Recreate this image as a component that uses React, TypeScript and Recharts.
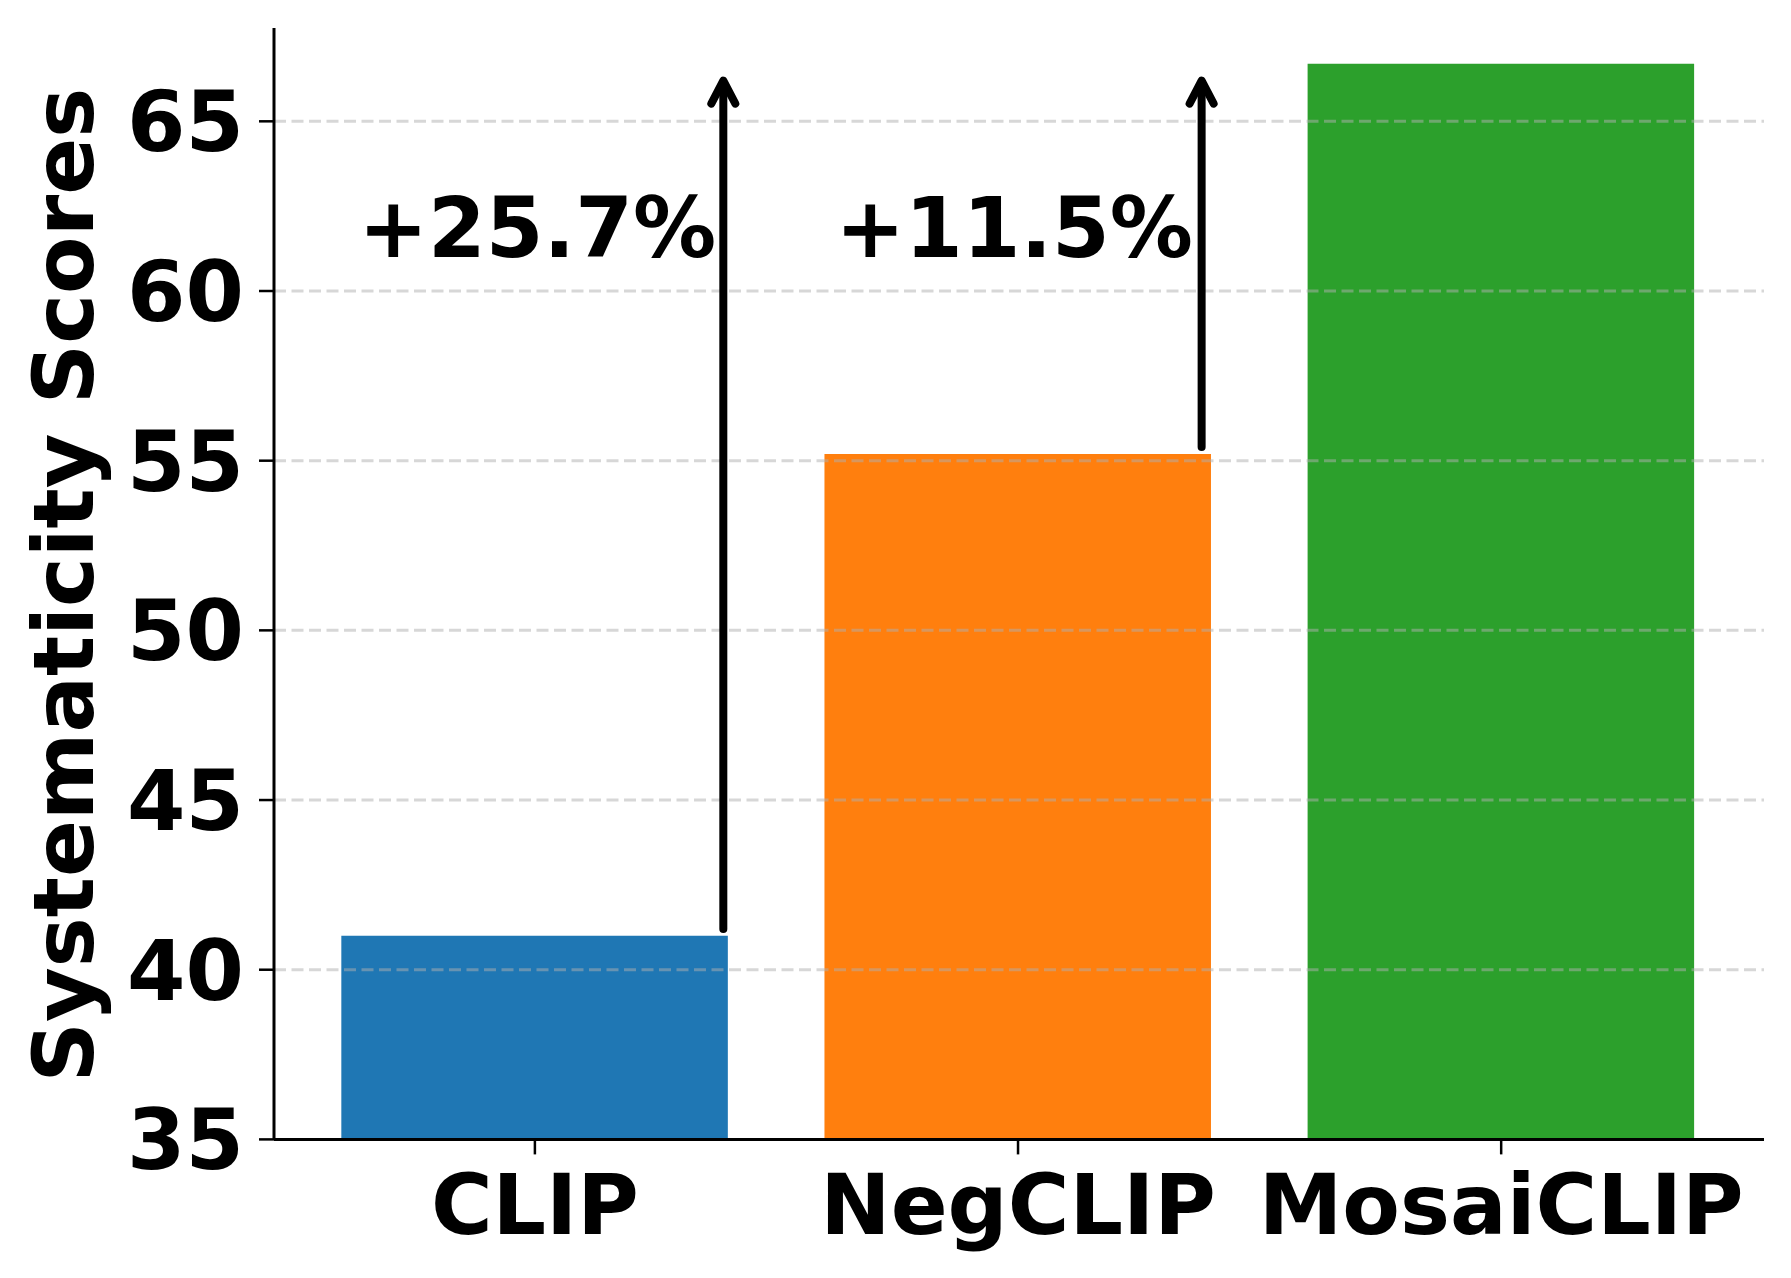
import React from 'react';
import {
  ComposedChart,
  Bar,
  Cell,
  XAxis,
  YAxis,
  ReferenceLine,
  ReferenceDot,
} from 'recharts';

// ---- data ----
const categories = ['CLIP', 'NegCLIP', 'MosaiCLIP'];
const scores = [41.0, 55.2, 66.7];
const barColors = ['#1f77b4', '#ff7f0e', '#2ca02c'];
const yTicks = [35, 40, 45, 50, 55, 60, 65];
const gridTicks = [40, 45, 50, 55, 60, 65];
const arrowX = [0.39, 1.38];
const arrowFrom = [41.2, 55.4];
const arrowTo = [66.2, 66.2];
const gainLabels = ['+25.7%', '+11.5%'];
const gainX = [0.005, 0.992];
const gainY = [61.0, 61.0];

const data = categories.map((name, i) => ({ idx: i, name, value: scores[i] }));

const W = 1791;
const H = 1278;
const FONT = 'DejaVu Sans';
const FS = 84;
const X_DOMAIN: [number, number] = [-0.54, 2.544];
const MARGIN = { top: 28, right: 27, bottom: 0, left: 0 };
const Y_AXIS_W = 274;
const X_AXIS_H = 138.6;
const plotW = W - MARGIN.left - MARGIN.right - Y_AXIS_W;
const BAR_SIZE = (0.8 * plotW) / (X_DOMAIN[1] - X_DOMAIN[0]);

const ArrowShape = (props: any) => {
  const { x1, y1, x2, y2 } = props;
  const x = (x1 + x2) / 2;
  const tipY = Math.min(y1, y2);
  const baseY = Math.max(y1, y2);
  return (
    <g>
      <line x1={x} y1={baseY} x2={x} y2={tipY + 2} stroke="#000" strokeWidth={8} strokeLinecap="round" />
      <path
        d={`M ${x - 12} ${tipY + 23} L ${x} ${tipY} L ${x + 12} ${tipY + 23}`}
        fill="none"
        stroke="#000"
        strokeWidth={8}
        strokeLinecap="round"
        strokeLinejoin="round"
      />
    </g>
  );
};

const YLabel = (props: any) => {
  const vb = props.viewBox || {};
  const x = (vb.x || 0) + 93;
  const y = (vb.y || 0) + (vb.height || 0) / 2 + 1.5;
  return (
    <text
      x={x}
      y={y}
      transform={`rotate(-90, ${x}, ${y})`}
      textAnchor="middle"
      fontFamily={FONT}
      fontWeight="bold"
      fontSize={FS}
      fill="#000"
    >
      Systematicity Scores
    </text>
  );
};

export default function App() {
  return (
    <div style={{ position: 'absolute', left: 0, top: 0, width: W, height: H, background: '#fff' }}>
      <ComposedChart width={W} height={H} data={data} margin={MARGIN}>
        <XAxis
          dataKey="idx"
          type="number"
          domain={X_DOMAIN}
          allowDataOverflow
          ticks={[0, 1, 2]}
          interval={0}
          tickFormatter={(v: number) => categories[v]}
          height={X_AXIS_H}
          tickSize={15}
          tickMargin={20}
          axisLine={{ stroke: '#000', strokeWidth: 3 }}
          tickLine={{ stroke: '#000', strokeWidth: 2.5 }}
          tick={{ fill: '#000', fontSize: FS, fontWeight: 'bold', fontFamily: FONT }}
        />
        <YAxis
          type="number"
          domain={[35, 67.75]}
          allowDataOverflow
          ticks={yTicks}
          interval={0}
          width={Y_AXIS_W}
          tickSize={15}
          tickMargin={15}
          axisLine={{ stroke: '#000', strokeWidth: 3 }}
          tickLine={{ stroke: '#000', strokeWidth: 2.5 }}
          tick={{ fill: '#000', fontSize: FS, fontWeight: 'bold', fontFamily: FONT }}
          label={(p: any) => <YLabel {...p} />}
        />
        <Bar dataKey="value" barSize={BAR_SIZE} isAnimationActive={false}>
          {data.map((d, i) => (
            <Cell key={d.name} fill={barColors[i]} />
          ))}
        </Bar>
        {gridTicks.map((t) => (
          <ReferenceLine
            key={`g${t}`}
            y={t}
            stroke="#b0b0b0"
            strokeOpacity={0.5}
            strokeWidth={3}
            strokeDasharray="12 5.5"
          />
        ))}
        {arrowX.map((ax, i) => (
          <ReferenceLine
            key={`a${i}`}
            segment={[
              { x: ax, y: arrowFrom[i] },
              { x: ax, y: arrowTo[i] },
            ]}
            shape={(p: any) => <ArrowShape {...p} />}
          />
        ))}
        {gainLabels.map((txt, i) => (
          <ReferenceDot
            key={`t${i}`}
            x={gainX[i]}
            y={gainY[i]}
            r={0}
            shape={(p: any) => (
              <text
                x={p.cx}
                y={p.cy}
                textAnchor="middle"
                fontFamily={FONT}
                fontWeight="bold"
                fontSize={83}
                fill="#000"
              >
                {txt}
              </text>
            )}
          />
        ))}
      </ComposedChart>
    </div>
  );
}
